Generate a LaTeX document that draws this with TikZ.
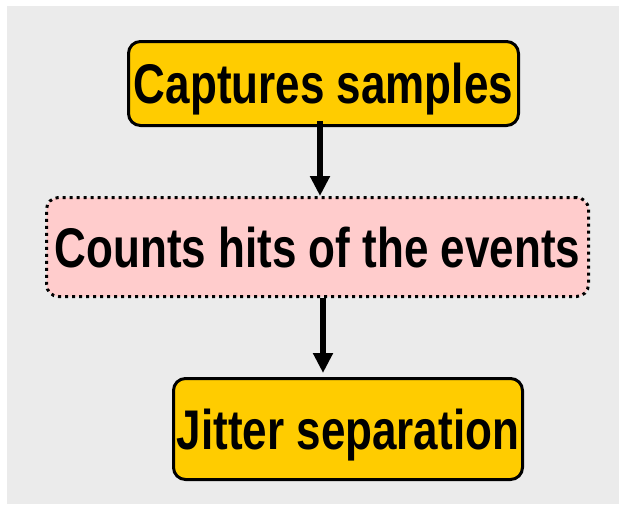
\documentclass[tikz,border=0pt]{standalone}
\usepackage{fontspec}
\setmainfont{Liberation Sans}
\usepackage{tikz}
\usetikzlibrary{arrows.meta}

\definecolor{bggray}{HTML}{EBEBEB}
\definecolor{stepyellow}{HTML}{FFCC00}
\definecolor{steppink}{HTML}{FFCCCC}

\newcommand{\tallbf}[1]{\scalebox{1}[1.27]{#1}}

\begin{document}
\begin{tikzpicture}[x=1pt, y=-1pt,
  box/.style = {draw, line width=3pt, rounded corners=12pt, align=center,
    font=\fontsize{44}{50}\selectfont\bfseries, text height=40pt, text depth=0pt},
  flow/.style = {line width=5.5pt, -{Triangle[width=19pt,length=20pt]}}]
\useasboundingbox (0,0) rectangle (619,504);
\fill[bggray] (7,6) rectangle (619,504);
\node[box, fill=stepyellow, minimum width=390pt, minimum height=84pt] (capt) at (323.5,83.5) {\tallbf{Captures samples}};
\node[box, fill=steppink, dash pattern=on 3pt off 4pt, minimum width=542pt, minimum height=99pt] (counts) at (317.5,247) {\tallbf{Counts hits of the events}};
\node[box, fill=stepyellow, minimum width=349pt, minimum height=101pt] (jitter) at (348,429) {\tallbf{Jitter separation}};
\draw[flow] ([xshift=-3.5pt, yshift=6pt]capt.south) -- ([xshift=2.5pt]counts.north);
\draw[flow, shorten >=4pt] ([xshift=5.5pt]counts.south) -- ([xshift=5.5pt]counts.south |- jitter.north);
\end{tikzpicture}
\end{document}
